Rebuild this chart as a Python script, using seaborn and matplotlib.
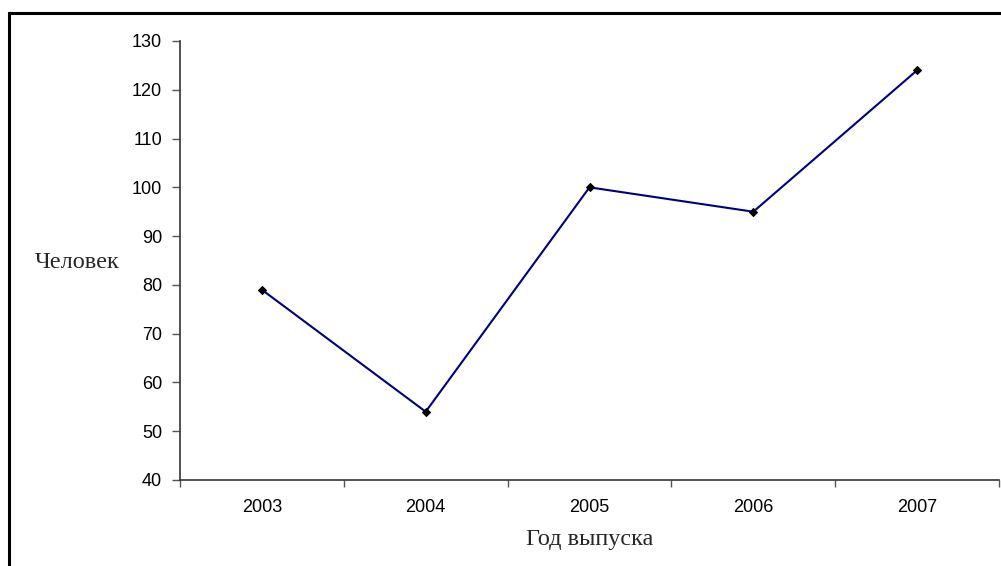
import matplotlib
matplotlib.use("Agg")
import matplotlib.pyplot as plt
import seaborn as sns
import pandas as pd
from matplotlib.patches import Rectangle
from matplotlib.ticker import FixedLocator

years = ["2003", "2004", "2005", "2006", "2007"]
people = [79, 54, 100, 95, 124]
y_ticks = [40, 50, 60, 70, 80, 90, 100, 110, 120, 130]

sns.set_theme(style="white")
plt.rcParams['font.family'] = ['Liberation Sans', 'DejaVu Sans']

df = pd.DataFrame({"year": years, "people": people})

fig = plt.figure(figsize=(10.01, 5.66), dpi=100)
ax = fig.add_axes([180/1001, (566-480)/566, (999-180)/1001, (480-41)/566])

sns.lineplot(data=df, x="year", y="people", ax=ax, color="#000080", linewidth=1.5,
             marker="D", markersize=4.5, markerfacecolor="black", markeredgecolor="black",
             sort=False)

ax.set_xlim(-0.5, len(years) - 0.5)
ax.set_ylim(40, 130)
ax.set_yticks(y_ticks)
ax.set_xticks(range(len(years)))
ax.set_xticklabels(years)
ax.xaxis.set_minor_locator(FixedLocator([i - 0.5 for i in range(len(years) + 1)]))
ax.tick_params(axis="x", which="major", length=0, pad=14, labelsize=13, colors="black")
ax.tick_params(axis="x", which="minor", length=5, width=1, color="#555555", bottom=True)
ax.tick_params(axis="y", which="major", length=6, width=1, color="#555555", left=True,
               labelsize=13, pad=7, labelcolor="black")

for s in ["top", "right"]:
    ax.spines[s].set_visible(False)
for s in ["left", "bottom"]:
    ax.spines[s].set_color("#333333")
    ax.spines[s].set_linewidth(1.2)

ax.set_xlabel("")
ax.set_ylabel("")
fig.text(77/1001, 1 - 263/566, "Человек", ha="center", va="center",
         fontsize=17.5, family=["Liberation Serif", "DejaVu Serif"])
fig.text(590/1001, 1 - 539/566, "Год выпуска", ha="center", va="center",
         fontsize=17.5, family=["Liberation Serif", "DejaVu Serif"])

frame = Rectangle((9/1001, -0.05), 1.2, 1 - 13/566 + 0.05, transform=fig.transFigure,
                  fill=False, edgecolor="black", linewidth=2.2, clip_on=False)
fig.patches.append(frame)

fig.savefig("out.png", dpi=100)
